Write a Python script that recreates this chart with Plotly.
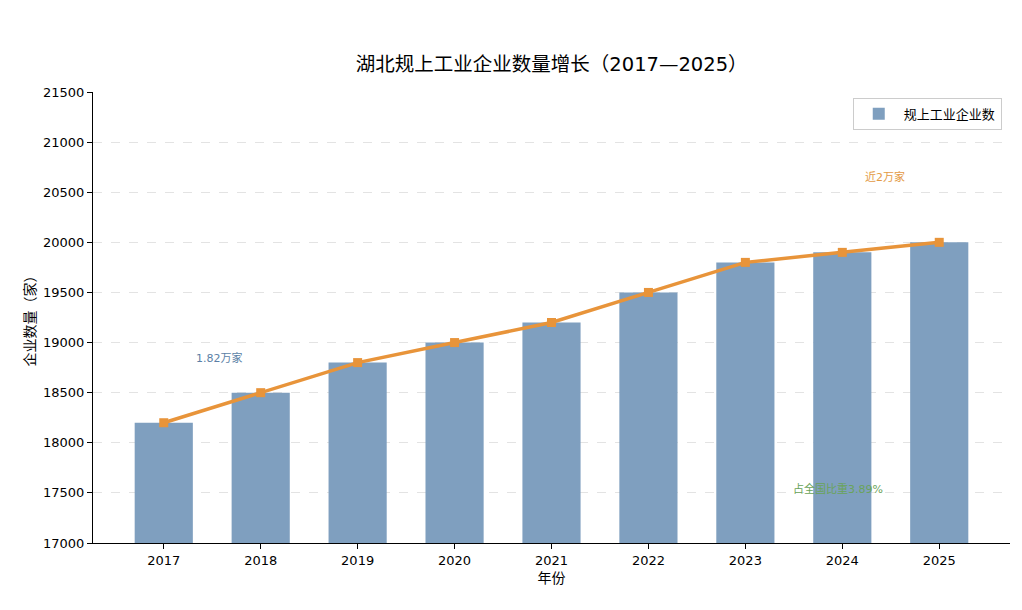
import plotly.graph_objects as go

years = ["2017", "2018", "2019", "2020", "2021", "2022", "2023", "2024", "2025"]
enterprises = [18200, 18500, 18800, 19000, 19200, 19500, 19800, 19900, 20000]

note_x = [0.57, 7.44, 6.96]
note_y = [18850, 20650, 17540]
note_text = ["1.82万家", "近2万家", "占全国比重3.89%"]
note_color = ["#5b7fa6", "#e39a45", "#6aa35a"]

font_family = "DejaVu Sans, Noto Sans CJK SC"

fig = go.Figure()
fig.add_trace(go.Bar(x=list(range(len(years))), y=enterprises, name="规上工业企业数",
                     marker=dict(color="#7f9fbf", line=dict(width=0)), width=0.6))
fig.add_trace(go.Scatter(x=list(range(len(years))), y=enterprises, mode="lines+markers",
                         line=dict(color="#e8943a", width=3.5),
                         marker=dict(symbol="square", size=9, color="#e8943a"),
                         showlegend=False))

for x, y, t, c in zip(note_x, note_y, note_text, note_color):
    fig.add_annotation(x=x, y=y, text=t, showarrow=False,
                       font=dict(size=11, color=c, family=font_family))

fig.update_layout(
    width=1022, height=610,
    margin=dict(l=85, r=20, t=84, b=75),
    paper_bgcolor="white", plot_bgcolor="white",
    font=dict(family=font_family, size=13, color="black"),
    title=dict(text="湖北规上工业企业数量增长（2017—2025）", x=0.532, xanchor="center",
               y=0.908, yanchor="middle", font=dict(size=19.5)),
    bargap=0.4,
    legend=dict(x=0.991, y=0.987, xanchor="right", yanchor="top",
                bordercolor="#cccccc", borderwidth=1, bgcolor="white",
                font=dict(size=13), itemwidth=40),
    xaxis=dict(tickmode="array", tickvals=list(range(len(years))), ticktext=years,
               range=[-0.73, 8.73], showline=True, linecolor="black", linewidth=1,
               ticks="outside", ticklen=5, tickcolor="black", showgrid=False,
               title=dict(text="年份", font=dict(size=14), standoff=6)),
    yaxis=dict(range=[17000, 21500], dtick=500, tickformat="d", showline=True,
               linecolor="black", linewidth=1,
               ticks="outside", ticklen=5, tickcolor="black",
               showgrid=True, gridcolor="#e3e3e3", griddash="dash", zeroline=False,
               title=dict(text="企业数量（家）", font=dict(size=14), standoff=4)),
)

fig.write_html("out.html")
